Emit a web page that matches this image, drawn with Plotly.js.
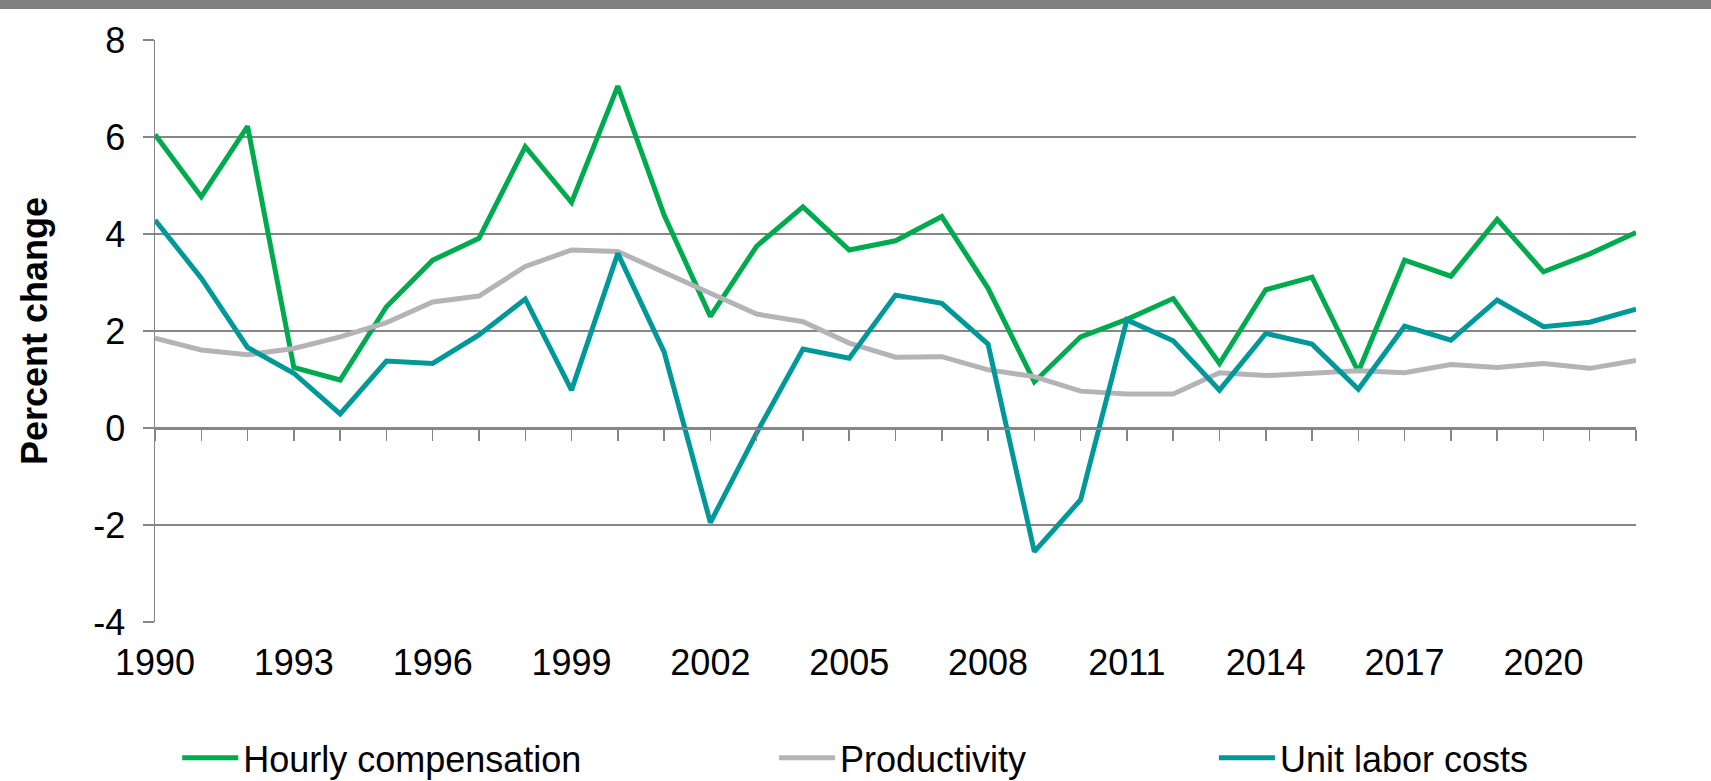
<!DOCTYPE html>
<html>
<head>
<meta charset="utf-8">
<script src="https://cdn.plot.ly/plotly-3.0.1.min.js"></script>
<style>
  html, body { margin: 0; padding: 0; background: #fff; }
  #banner { width: 1711px; height: 9px; background: #808080; }
  #chart { width: 1711px; height: 772px; }
</style>
</head>
<body>
<div id="banner"></div>
<div id="chart"></div>
<script>
const years = [];
for (let y = 1990; y <= 2022; y++) years.push(y);

const hourlyCompensation = [6.05, 4.77, 6.22, 1.25, 0.99, 2.50, 3.46, 3.91, 5.80, 4.65,
  7.05, 4.39, 2.30, 3.75, 4.56, 3.67, 3.86, 4.36, 2.88, 0.95,
  1.88, 2.24, 2.67, 1.33, 2.85, 3.11, 1.16, 3.46, 3.13, 4.30,
  3.22, 3.59, 4.03];

const productivity = [1.85, 1.61, 1.51, 1.64, 1.88, 2.17, 2.60, 2.72, 3.33, 3.67,
  3.64, 3.22, 2.78, 2.35, 2.19, 1.75, 1.46, 1.47, 1.20, 1.06,
  0.76, 0.70, 0.70, 1.14, 1.08, 1.13, 1.18, 1.14, 1.31, 1.25,
  1.33, 1.23, 1.39];

const unitLaborCosts = [4.29, 3.09, 1.66, 1.13, 0.29, 1.38, 1.33, 1.92, 2.66, 0.78,
  3.60, 1.57, -1.95, -0.10, 1.63, 1.44, 2.74, 2.57, 1.73, -2.55,
  -1.48, 2.23, 1.80, 0.78, 1.95, 1.73, 0.80, 2.10, 1.81, 2.64,
  2.09, 2.18, 2.45];

const seriesNames = ['Hourly compensation', 'Productivity', 'Unit labor costs'];
const colors = ['#00AB4E', '#B4B4B8', '#009898'];

const yTickValues = [-4, -2, 0, 2, 4, 6, 8];
const yTickLabels = ['-4', '-2', '0', '2', '4', '6', '8'];

const FONT = 'Liberation Sans, Arial, sans-serif';
const GRID = '#868686';
const LW = 5;

const traces = [
  { x: years, y: hourlyCompensation, name: seriesNames[0], type: 'scatter', mode: 'lines',
    line: { color: colors[0], width: LW }, legend: 'legend', xaxis: 'x', yaxis: 'y' },
  { x: years, y: productivity, name: seriesNames[1], type: 'scatter', mode: 'lines',
    line: { color: colors[1], width: LW }, legend: 'legend2', xaxis: 'x', yaxis: 'y' },
  { x: years, y: unitLaborCosts, name: seriesNames[2], type: 'scatter', mode: 'lines',
    line: { color: colors[2], width: LW }, legend: 'legend3', xaxis: 'x2', yaxis: 'y' }
];

const legendCommon = {
  orientation: 'h', yref: 'container', yanchor: 'middle', xanchor: 'left', y: 0.030,
  font: { family: FONT, size: 36, color: '#000' },
  bgcolor: 'rgba(0,0,0,0)', itemwidth: 56, tracegroupgap: 0
};

const layout = {
  width: 1711, height: 772,
  margin: { l: 155, r: 75, t: 31, b: 159 },
  paper_bgcolor: '#fff', plot_bgcolor: '#fff',
  font: { family: FONT, size: 36, color: '#000' },
  xaxis: {
    range: [1990, 2022], tick0: 1990, dtick: 3, ticks: '',
    showgrid: false, zeroline: false, showline: false,
    tickfont: { family: FONT, size: 36, color: '#000' },
    ticklabelstandoff: 16
  },
  xaxis2: {
    range: [1990, 2022], overlaying: 'x', anchor: 'free', position: 1 / 3,
    tick0: 1990, dtick: 1, ticks: 'outside', ticklen: 11, tickwidth: 1.5, tickcolor: GRID,
    showticklabels: false, showgrid: false, zeroline: false,
    showline: true, linecolor: GRID, linewidth: 1.5
  },
  yaxis: {
    range: [-4, 8], tickmode: 'array', tickvals: yTickValues, ticktext: yTickLabels,
    ticks: 'outside', ticklen: 11, tickwidth: 1.5, tickcolor: GRID,
    showline: true, linecolor: GRID, linewidth: 1.5,
    showgrid: true, gridcolor: GRID, gridwidth: 1.5, zeroline: false,
    tickfont: { family: FONT, size: 36, color: '#000' },
    ticklabelstandoff: 10,
    title: { text: '<b>Percent change</b>', font: { family: FONT, size: 36, color: '#000' }, standoff: 34 }
  },
  showlegend: true,
  legend: Object.assign({}, legendCommon, { x: 0.015 }),
  legend2: Object.assign({}, legendCommon, { x: 0.418 }),
  legend3: Object.assign({}, legendCommon, { x: 0.715 })
};

Plotly.newPlot('chart', traces, layout, { displayModeBar: false, staticPlot: true });
</script>
</body>
</html>
